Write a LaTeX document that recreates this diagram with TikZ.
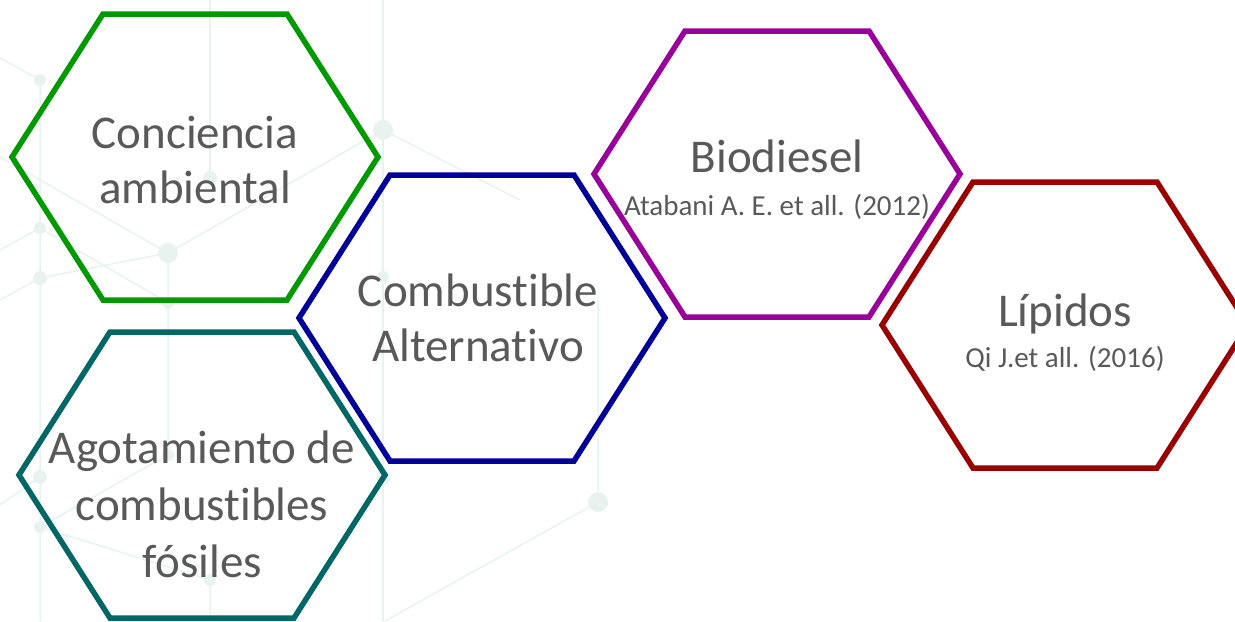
\documentclass[tikz,border=0pt]{standalone}
\usepackage{fontspec}
\setmainfont{Carlito}[Ligatures=NoCommon]

\definecolor{verde}{HTML}{009900}
\definecolor{azul}{HTML}{000099}
\definecolor{petroleo}{HTML}{006666}
\definecolor{morado}{HTML}{990099}
\definecolor{granate}{HTML}{990000}
\definecolor{gristexto}{HTML}{595959}
\definecolor{redfondo}{HTML}{E8F3EF}

\newcommand{\citatexto}{\fontsize{14.5}{17}\selectfont}

\tikzset{
  hexborde/.style={line width=2.75pt, line join=miter},
  texto/.style={text=gristexto, align=center, font=\fontsize{23.5}{27.5}\selectfont},
  enlace/.style={redfondo, line width=0.75pt},
}

\begin{document}
\begin{tikzpicture}[x=0.5pt,y=-0.5pt]
\useasboundingbox (0,0) rectangle (1235,621);
\clip (0,0) rectangle (1235,621);

  % Background network (very faint)
  \coordinate (p1) at (40,80);
  \coordinate (p2) at (40,228);
  \coordinate (p3) at (40,278);
  \coordinate (p4) at (210,178);
  \coordinate (p5) at (168,253);
  \coordinate (p6) at (168,303);
  \coordinate (p7) at (383,130);
  \coordinate (p8) at (40,477);
  \coordinate (p9) at (40,527);
  \coordinate (p10) at (168,455);
  \coordinate (p11) at (210,580);
  \coordinate (p12) at (383,478);
  \coordinate (p13) at (598,502);
  \coordinate (p14) at (383,277);
  \draw[enlace] (0,58) -- (p1) -- (p2) -- (p3) -- (p8) -- (p9) -- (40,621);
  \draw[enlace] (210,0) -- (p4);
  \draw[enlace] (0,157) -- (p5) -- (p7) -- (520,200);
  \draw[enlace] (0,250) -- (p2) -- (p6);
  \draw[enlace] (0,300) -- (p3) -- (p5) -- (p6) -- (p10);
  \draw[enlace] (0,505) -- (p8);
  \draw[enlace] (p9) -- (p10);
  \draw[enlace] (p9) -- (p11) -- (210,621);
  \draw[enlace] (383,0) -- (p7) -- (p14) -- (p12) -- (383,621);
  \draw[enlace] (598,300) -- (p13) -- (385,621);
  \foreach \p/\r in {p1/3,p2/3,p3/3.5,p4/3.5,p5/5,p6/3,p7/5,p8/3.5,p9/3,p10/3,p11/3,p12/3.5,p13/5,p14/3}{
    \fill[redfondo] (\p) circle (\r pt);
  }

  % Hexagons: centre x / centre y / colour
  \foreach \cx/\cy/\col in {195/157/verde,482/318/azul,202/475/petroleo,777/174/morado,1065/325/granate}{
    \draw[hexborde, draw=\col] (\cx-183,\cy) -- (\cx-92,\cy-143) -- (\cx+92,\cy-143)
      -- (\cx+183,\cy) -- (\cx+92,\cy+143) -- (\cx-92,\cy+143) -- cycle;
  }

  % Labels
  \node[texto] (conciencia) at (195,160) {Conciencia\\ambiental};
  \node[texto] (alternativo) at (478,318) {Combustible\\Alternativo};
  \node[texto] (agotamiento) at (202,504) {Agotamiento de\\[1pt]combustibles\\[1pt]fósiles};
  \node[texto] (biodiesel) at (777,180) {Biodiesel\\[-6pt]{\citatexto Atabani A. E. et all. (2012)}};
  \node[texto] (lipidos) at (1065,333) {Lípidos\\[-7pt]{\citatexto Qi J.et all. (2016)}};
\end{tikzpicture}
\end{document}
